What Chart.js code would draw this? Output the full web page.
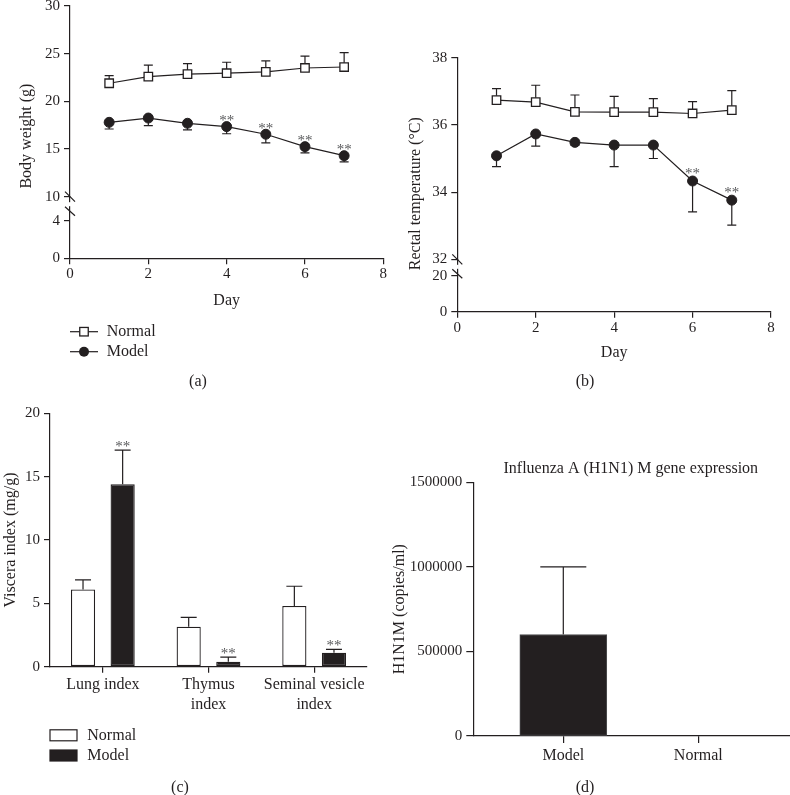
<!DOCTYPE html>
<html><head><meta charset="utf-8">
<script src="https://cdn.jsdelivr.net/npm/chart.js@4.4.0/dist/chart.umd.min.js"></script>
<style>
html,body{margin:0;padding:0;background:#fff;}
#page{position:relative;width:790px;height:795px;overflow:hidden;background:#fff;font-family:'Liberation Serif',serif;color:#231f20;}
canvas{position:absolute;}
.cap{position:absolute;font-size:16px;transform:translate(-50%,-50%);white-space:nowrap;line-height:1;}
</style></head>
<body><div id="page">
<canvas id="chartA" width="395" height="400" style="left:0;top:-20px;width:395px;height:400px"></canvas>
<canvas id="chartB" width="405" height="400" style="left:395px;top:-20px;width:405px;height:400px"></canvas>
<canvas id="chartC" width="395" height="415" style="left:0;top:380px;width:395px;height:415px"></canvas>
<canvas id="chartD" width="415" height="415" style="left:385px;top:380px;width:415px;height:415px"></canvas>
<div class="cap" style="left:198px;top:381px">(a)</div>
<div class="cap" style="left:585px;top:381px">(b)</div>
<div class="cap" style="left:180px;top:787px">(c)</div>
<div class="cap" style="left:585px;top:787px">(d)</div>
</div>
<script>
// ---------- data ----------
const days = [1, 2, 3, 4, 5, 6, 7];
const weightNormal   = [21.9, 22.6, 22.85, 22.95, 23.1, 23.5, 23.6];
const weightNormalSD = [0.8, 1.2, 1.1, 1.15, 1.15, 1.25, 1.5];
const weightModel    = [17.8, 18.25, 17.7, 17.35, 16.55, 15.25, 14.3];
const weightModelSD  = [0.7, 0.8, 0.7, 0.75, 0.9, 0.65, 0.65];
const weightModelSig = [0, 0, 0, 1, 1, 1, 1];
const weightTicksHigh = [10, 15, 20, 25, 30];
const weightTicksLow  = [0, 2, 4];

const tempNormal   = [36.74, 36.68, 36.39, 36.38, 36.38, 36.34, 36.44];
const tempNormalSD = [0.34, 0.5, 0.5, 0.47, 0.4, 0.35, 0.58];
const tempModel    = [35.08, 35.73, 35.48, 35.40, 35.40, 34.33, 33.76];
const tempModelSD  = [0.32, 0.36, 0.08, 0.64, 0.4, 0.92, 0.74];
const tempModelSig = [0, 0, 0, 0, 0, 1, 1];
const tempTicksHigh = [32, 34, 36, 38];
const tempTicksLow  = [0, 10, 20];

const dayTicks = [0, 2, 4, 6, 8];

const visceraCategories = [['Lung index'], ['Thymus', 'index'], ['Seminal vesicle', 'index']];
const visceraNormal   = [6.1, 3.15, 4.8];
const visceraNormalSD = [0.75, 0.75, 1.55];
const visceraModel    = [14.4, 0.4, 1.1];
const visceraModelSD  = [2.7, 0.35, 0.27];
const visceraModelSig = [1, 1, 1];
const visceraTicks = [0, 5, 10, 15, 20];

const geneCategories = ['Model', 'Normal'];
const geneValues = [600000, 0];
const geneSD     = [400000, 0];
const geneTicks  = [0, 500000, 1000000, 1500000];

const seriesNames = ['Normal', 'Model'];

// ---------- style ----------
const C = '#231f20';
const FONT = "'Liberation Serif', 'Times New Roman', serif";
Chart.defaults.font.family = FONT;
Chart.defaults.font.size = 16;
Chart.defaults.color = C;
Chart.defaults.animation = false;
Chart.defaults.plugins.legend.display = false;
Chart.defaults.plugins.tooltip.enabled = false;

const fixTicks = arr => s => { s.ticks = arr.map(v => ({ value: v })); };
const fixW = w => s => { s.width = w; };
const fixH = h => s => { s.height = h; };

function yAxis(o) {
  return Object.assign({
    type: 'linear', position: 'left',
    grid: { drawOnChartArea: false, drawTicks: true, tickLength: 6, color: C, lineWidth: 1.2 },
    border: { display: true, color: C, width: 1.2 },
    ticks: { color: C, padding: 4, font: { size: 15 }, callback: v => String(v) }
  }, o);
}
function xAxis(o) {
  return Object.assign({
    offset: false,
    grid: { drawOnChartArea: false, drawTicks: true, tickLength: 6, color: C, lineWidth: 1.2, offset: false },
    border: { display: true, color: C, width: 1.2 },
    ticks: { color: C, padding: 1, font: { size: 15 }, maxRotation: 0, autoSkip: false }
  }, o);
}

const normalLine = {
  borderColor: C, borderWidth: 1.2, tension: 0,
  pointStyle: 'rect', pointRadius: 6, pointBackgroundColor: '#fff',
  pointBorderColor: C, pointBorderWidth: 1.3
};
const modelLine = {
  borderColor: C, borderWidth: 1.2, tension: 0,
  pointStyle: 'circle', pointRadius: 5, pointBackgroundColor: C,
  pointBorderColor: C, pointBorderWidth: 1
};

// ---------- plugin: error bars, asterisks, axis breaks, titles, legends ----------
const extras = {
  id: 'extras',
  beforeDatasetsDraw(chart, args, opts) {
    const ctx = chart.ctx;
    chart.data.datasets.forEach((ds, di) => {
      if (!ds.errorBars) return;
      const meta = chart.getDatasetMeta(di);
      const ys = chart.scales[meta.yAxisID];
      ctx.save();
      ctx.strokeStyle = C; ctx.lineWidth = 1.2;
      meta.data.forEach((el, i) => {
        const sd = ds.errorBars[i];
        if (!sd) return;
        const v = ds.values[i];
        const y0 = ys.getPixelForValue(v);
        const y1 = ys.getPixelForValue(v + ds.errorDir * sd);
        ctx.beginPath();
        ctx.moveTo(el.x, y0); ctx.lineTo(el.x, y1);
        ctx.moveTo(el.x - opts.cap / 2, y1); ctx.lineTo(el.x + opts.cap / 2, y1);
        ctx.stroke();
      });
      ctx.restore();
    });
  },
  afterDatasetsDraw(chart, args, opts) {
    const ctx = chart.ctx;
    chart.data.datasets.forEach((ds, di) => {
      if (!ds.sig) return;
      const meta = chart.getDatasetMeta(di);
      const ys = chart.scales[meta.yAxisID];
      ctx.save();
      ctx.font = '15px ' + FONT; ctx.fillStyle = '#58595b';
      ctx.textAlign = 'center'; ctx.textBaseline = 'alphabetic';
      meta.data.forEach((el, i) => {
        if (!ds.sig[i]) return;
        let top = el.y;
        if (ds.errorDir > 0 && ds.errorBars[i]) top = ys.getPixelForValue(ds.values[i] + ds.errorBars[i]);
        ctx.fillText('**', el.x, top - opts.sigGap + 7);
      });
      ctx.restore();
    });
  },
  afterDraw(chart, args, opts) {
    const ctx = chart.ctx;
    const ca = chart.chartArea;
    ctx.save();
    if (opts.breakAxis) {
      const s = chart.scales[opts.breakAxis];
      const x = s.right, yb = s.bottom;
      ctx.fillStyle = '#fff';
      ctx.fillRect(x - 1.5, yb + 5.5, 3, 4);
      ctx.strokeStyle = C; ctx.lineWidth = 1.2;
      ctx.beginPath();
      ctx.moveTo(x - 5, yb - 5); ctx.lineTo(x + 5, yb + 5);
      ctx.moveTo(x - 5, yb + 10); ctx.lineTo(x + 5, yb + 19);
      ctx.stroke();
    }
    ctx.fillStyle = C;
    ctx.font = '16px ' + FONT;
    if (opts.yTitle) {
      ctx.save();
      ctx.translate(ca.left + opts.yTitle.dx, (ca.top + ca.bottom) / 2 + opts.yTitle.dy);
      ctx.rotate(-Math.PI / 2);
      ctx.textAlign = 'center'; ctx.textBaseline = 'middle';
      ctx.fillText(opts.yTitle.text, 0, 0);
      ctx.restore();
    }
    if (opts.topTitle) {
      ctx.textAlign = 'center'; ctx.textBaseline = 'middle';
      ctx.fillText(opts.topTitle.text, chart.scales.x.getPixelForValue(opts.topTitle.at), ca.top + opts.topTitle.dy);
    }
    if (opts.legend) {
      const L = opts.legend;
      L.items.forEach((it, k) => {
        const y = ca.bottom + L.dy[k];
        const x0 = ca.left;
        ctx.strokeStyle = C; ctx.lineWidth = 1.2; ctx.fillStyle = C;
        if (it.marker === 'square' || it.marker === 'circle') {
          ctx.beginPath(); ctx.moveTo(x0, y); ctx.lineTo(x0 + 28, y); ctx.stroke();
          const cx = x0 + 14;
          if (it.marker === 'square') {
            ctx.fillStyle = '#fff'; ctx.fillRect(cx - 4.25, y - 4.25, 8.5, 8.5);
            ctx.lineWidth = 1.3; ctx.strokeRect(cx - 4.25, y - 4.25, 8.5, 8.5);
          } else {
            ctx.beginPath(); ctx.arc(cx, y, 5, 0, Math.PI * 2); ctx.fill();
          }
        } else {
          ctx.fillStyle = it.marker === 'boxFilled' ? C : '#fff';
          ctx.fillRect(x0, y - 5.5, 27, 11);
          ctx.lineWidth = 1.2; ctx.strokeRect(x0, y - 5.5, 27, 11);
        }
        ctx.fillStyle = C; ctx.textAlign = 'left'; ctx.textBaseline = 'middle';
        ctx.fillText(it.text, x0 + L.textDx, y);
      });
    }
    ctx.restore();
  }
};

// ---------- (a) body weight ----------
new Chart(document.getElementById('chartA'), {
  type: 'line',
  data: { datasets: [
    Object.assign({ label: seriesNames[0], data: days.map((d, i) => ({ x: d, y: weightNormal[i] })),
      values: weightNormal, errorBars: weightNormalSD, errorDir: 1, yAxisID: 'yHigh' }, normalLine),
    Object.assign({ label: seriesNames[1], data: days.map((d, i) => ({ x: d, y: weightModel[i] })),
      values: weightModel, errorBars: weightModelSD, errorDir: -1, sig: weightModelSig, yAxisID: 'yHigh' }, modelLine)
  ]},
  options: {
    responsive: false, devicePixelRatio: 1,
    layout: { padding: { left: 30, top: 26, right: 11.7, bottom: 70 } },
    scales: {
      x: xAxis({ type: 'linear', min: 0, max: 8, afterBuildTicks: fixTicks(dayTicks), afterFit: fixH(51.7),
        title: { display: true, text: 'Day', color: C, font: { size: 16 }, padding: 0 } }),
      yLow: yAxis({ stack: 'wa', stackWeight: 61.6, min: 0, max: 6.55, afterBuildTicks: fixTicks(weightTicksLow), afterFit: fixW(40) }),
      yHigh: yAxis({ stack: 'wa', stackWeight: 190.7, min: 10, max: 30, afterBuildTicks: fixTicks(weightTicksHigh), afterFit: fixW(40) })
    },
    plugins: { extras: {
      cap: 9, sigGap: 8.5, breakAxis: 'yHigh',
      yTitle: { text: 'Body weight (g)', dx: -43, dy: 4 },
      legend: { dy: [73.4, 93.4], textDx: 36.7, items: [ { text: seriesNames[0], marker: 'square' }, { text: seriesNames[1], marker: 'circle' } ] }
    } }
  },
  plugins: [extras]
});

// ---------- (b) rectal temperature ----------
new Chart(document.getElementById('chartB'), {
  type: 'line',
  data: { datasets: [
    Object.assign({ label: seriesNames[0], data: days.map((d, i) => ({ x: d, y: tempNormal[i] })),
      values: tempNormal, errorBars: tempNormalSD, errorDir: 1, yAxisID: 'yHigh' }, normalLine),
    Object.assign({ label: seriesNames[1], data: days.map((d, i) => ({ x: d, y: tempModel[i] })),
      values: tempModel, errorBars: tempModelSD, errorDir: -1, sig: tempModelSig, yAxisID: 'yHigh' }, modelLine)
  ]},
  options: {
    responsive: false, devicePixelRatio: 1,
    layout: { padding: { left: 22.3, top: 77.7, right: 29, bottom: 17.3 } },
    scales: {
      x: xAxis({ type: 'linear', min: 0, max: 8, afterBuildTicks: fixTicks(dayTicks), afterFit: fixH(51),
        title: { display: true, text: 'Day', color: C, font: { size: 16 }, padding: 0 } }),
      yLow: yAxis({ stack: 'tb', stackWeight: 52.4, min: 0, max: 29.4, afterBuildTicks: fixTicks(tempTicksLow), afterFit: fixW(40) }),
      yHigh: yAxis({ stack: 'tb', stackWeight: 201.6, min: 32, max: 38, afterBuildTicks: fixTicks(tempTicksHigh), afterFit: fixW(40) })
    },
    plugins: { extras: {
      cap: 9, sigGap: 10, breakAxis: 'yHigh',
      yTitle: { text: 'Rectal temperature (\u00B0C)', dx: -42, dy: 9 }
    } }
  },
  plugins: [extras]
});

// ---------- (c) viscera index ----------
new Chart(document.getElementById('chartC'), {
  type: 'bar',
  data: { labels: visceraCategories, datasets: [
    { label: seriesNames[0], data: visceraNormal, values: visceraNormal, errorBars: visceraNormalSD, errorDir: 1,
      backgroundColor: '#fff', borderColor: C, borderWidth: 1.3, borderSkipped: false,
      categoryPercentage: 0.75, barPercentage: 0.61 },
    { label: seriesNames[1], data: visceraModel, values: visceraModel, errorBars: visceraModelSD, errorDir: 1, sig: visceraModelSig,
      backgroundColor: C, borderColor: C, borderWidth: 1.3, borderSkipped: false,
      categoryPercentage: 0.75, barPercentage: 0.61 }
  ]},
  options: {
    responsive: false, devicePixelRatio: 1,
    layout: { padding: { left: 0, top: 33.3, right: 28, bottom: 68.3 } },
    scales: {
      x: xAxis({ type: 'category', offset: true, afterFit: fixH(60),
        ticks: { color: C, padding: 2, font: { size: 16, lineHeight: 1.25 }, maxRotation: 0, autoSkip: false } }),
      y: yAxis({ min: 0, max: 20, afterBuildTicks: fixTicks(visceraTicks), afterFit: fixW(50),
        title: { display: true, text: 'Viscera index (mg/g)', color: C, font: { size: 16 }, padding: { top: 1, bottom: 0 } } })
    },
    plugins: { extras: {
      cap: 16, sigGap: 6.5,
      legend: { dy: [68.6, 88.8], textDx: 37.3, items: [ { text: seriesNames[0], marker: 'boxOpen' }, { text: seriesNames[1], marker: 'boxFilled' } ] }
    } }
  },
  plugins: [extras]
});

// ---------- (d) H1N1 M gene ----------
new Chart(document.getElementById('chartD'), {
  type: 'bar',
  data: { datasets: [
    { label: 'H1N1M', data: geneValues.map((v, i) => ({ x: i + 1, y: v })), values: geneValues, errorBars: geneSD, errorDir: 1,
      backgroundColor: C, borderColor: '#4d4d4f', borderWidth: 1, borderSkipped: false, barThickness: 87 }
  ]},
  options: {
    responsive: false, devicePixelRatio: 1,
    layout: { padding: { left: 0, top: 102.3, right: 0, bottom: 19 } },
    scales: {
      x: xAxis({ type: 'linear', offset: false, min: 1 - 90 / 135, max: 2 + 101.7 / 135, afterBuildTicks: fixTicks([1, 2]), afterFit: fixH(40),
        grid: { drawOnChartArea: false, drawTicks: true, tickLength: 7, color: C, lineWidth: 1.2, offset: false },
        ticks: { color: C, padding: 3, font: { size: 16 }, maxRotation: 0, autoSkip: false, callback: v => geneCategories[Math.round(v) - 1] } }),
      y: yAxis({ min: 0, max: 1500000, afterBuildTicks: fixTicks(geneTicks), afterFit: fixW(88.3),
        grid: { drawOnChartArea: false, drawTicks: true, tickLength: 7, color: C, lineWidth: 1.2 },
        title: { display: true, text: 'H1N1M (copies/ml)', color: C, font: { size: 16 }, padding: { top: 5, bottom: 0 } } })
    },
    plugins: { extras: {
      cap: 46, sigGap: 6,
      topTitle: { text: 'Influenza A (H1N1) M gene expression', at: 1.5, dy: -14 }
    } }
  },
  plugins: [extras]
});
</script>
</body></html>
